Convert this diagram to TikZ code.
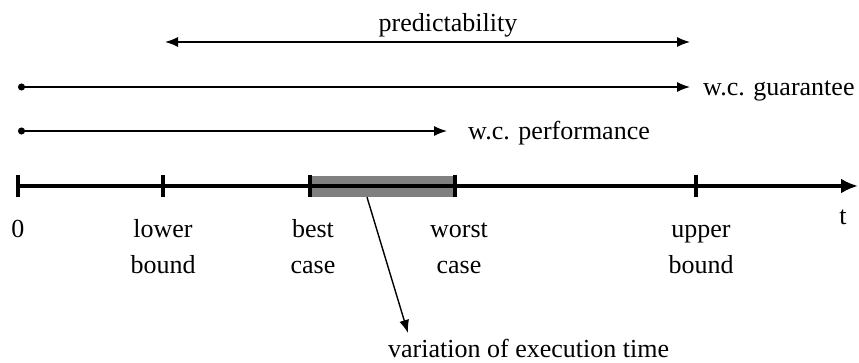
\documentclass[tikz,border=0pt]{standalone}
\usepackage{fontspec}
\setmainfont{Liberation Serif}
\usetikzlibrary{arrows.meta}
\begin{document}
\begin{tikzpicture}[x=1pt,y=-1pt,
  lbl/.style={font=\fontsize{26}{36}\selectfont, inner sep=0pt, align=center},
  thinline/.style={line width=1.4pt},
  tipthin/.style={-{Latex[length=13pt,width=10pt]}},
  axisline/.style={line width=4pt,-{Latex[length=17pt,width=15pt]}},
  tickmark/.style={line width=4pt},
  dotstart/.style={{Circle[length=7pt]}-{Latex[length=13pt,width=10pt]}}
]
\useasboundingbox (0,0) rectangle (859,363);
% coordinates on the axis
\coordinate (a0) at (18,186);
\coordinate (aend) at (858,186);
\coordinate (lb) at (163,186);
\coordinate (bc) at (310,186);
\coordinate (wc) at (455,186);
\coordinate (ub) at (696,186);
% variation box
\node[fill=black!50, minimum width=145pt, minimum height=21pt, inner sep=0pt, draw=none] (var) at (382.5,186.5) {};
% axis
\draw[axisline] (a0) -- (aend);
\foreach \c in {a0,lb,bc,wc,ub}
  \draw[tickmark] (\c) ++(0,-11) -- ++(0,22);
% labels under the axis
\node[lbl, anchor=base] (l0) at (18,238) {0};
\node[lbl, anchor=base] (llb) at (163,274) {lower\\bound};
\node[lbl, anchor=base] (lbc) at (313,274) {best\\case};
\node[lbl, anchor=base] (lwc) at (459,274) {worst\\case};
\node[lbl, anchor=base] (lub) at (701,274) {upper\\bound};
\node[lbl, anchor=base] (lt) at (843,225) {t};
% top arrows
\coordinate (p1) at (165,42);
\coordinate (p2) at (690,42);
\draw[thinline, {Latex[length=13pt,width=10pt]}-{Latex[length=13pt,width=10pt]}] (p1) -- (p2);
\node[lbl, anchor=base] (pred) at (448,32) {predictability};
\coordinate (g1) at (18,87);
\coordinate (g2) at (690,87);
\draw[thinline, dotstart] (g1) -- (g2);
\node[lbl, anchor=base west] (guar) at (703,96) {w.c. guarantee};
\coordinate (f1) at (18,131);
\coordinate (f2) at (447,131);
\draw[thinline, dotstart] (f1) -- (f2);
\node[lbl, anchor=base west] (perf) at (468,140) {w.c. performance};
% variation label
\node[lbl, anchor=base west] (vlab) at (388,357) {variation of execution time};
\coordinate (vtip) at (408,333);
\draw[thinline, tipthin] ([xshift=-15.5pt]var.south) -- (vtip);
\end{tikzpicture}
\end{document}
